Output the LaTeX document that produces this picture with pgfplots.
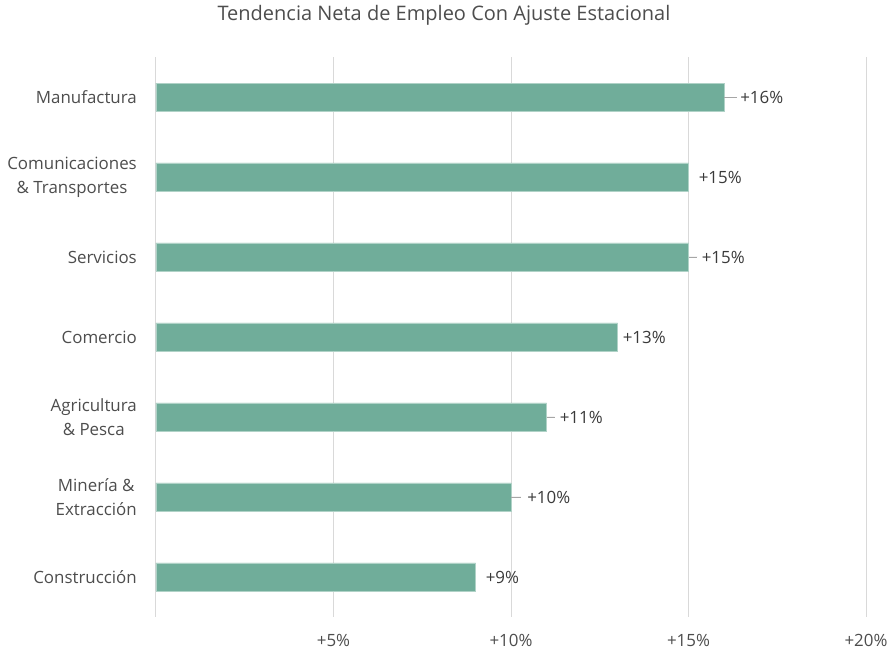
\documentclass[border=0pt]{standalone}
\usepackage{pgfplots}
\pgfplotsset{compat=1.18}
\usepackage{fontspec}
\setmainfont{Open Sans}
\definecolor{barc}{HTML}{70AD9A}
\definecolor{gridc}{HTML}{D9D9D9}
\definecolor{txt}{HTML}{4D4D4D}
\definecolor{lbl}{HTML}{3A3A3A}
\definecolor{lead}{HTML}{A6A6A6}

% y: 6 = top (Manufactura); off = gap bar end -> label (pt); len = leader line (data units)
\pgfplotstableread{
y x  off len
6 16 16  0.37
5 15 10  0
4 15 13  0.25
3 13 5   0
2 11 13  0.23
1 10 16  0.28
0 9  10  0
}\datatab

\begin{document}
\begin{tikzpicture}
\path[use as bounding box] (0,0) rectangle (889pt,653pt);
\begin{axis}[
    at={(156pt,36pt)}, anchor=south west,
    scale only axis, width=710pt, height=560pt,
    xmin=0, xmax=20, ymin=-0.5, ymax=6.5,
    axis line style={draw=none},
    major tick length=0pt,
    xtick={0,5,10,15,20},
    xticklabels={,+5\%,+10\%,+15\%,+20\%},
    xmajorgrids,
    grid style={gridc, line width=1pt},
    ytick={0,...,6},
    yticklabels={Construcción,{Minería \&\\Extracción},{Agricultura\\\& Pesca},Comercio,Servicios,{Comunicaciones\\\& Transportes},Manufactura},
    every tick label/.append style={font=\fontsize{16.9}{24}\selectfont, text=txt},
    xticklabel style={anchor=center, yshift=-23pt},
    yticklabel style={anchor=east, align=center, inner sep=0pt, xshift=-19pt},
    title={Tendencia Neta de Empleo Con Ajuste Estacional},
    title style={at={(0.4056,1.063)}, anchor=center, font=\fontsize{20}{24}\selectfont, text=txt},
  ]
  \addplot[xbar, bar width=28pt, fill=barc, draw=barc!55!white, line width=0.6pt,
    point meta=x,
    visualization depends on={\thisrow{off} \as \off},
    nodes near coords={+\pgfmathprintnumber[assume math mode=true]{\pgfplotspointmeta}\%},
    nodes near coords style={anchor=west, inner sep=0pt, xshift=\off pt,
      font=\fontsize{16.9}{20}\selectfont, text=lbl},
    error bars/.cd, x dir=plus, x explicit, error mark=none,
    error bar style={lead, line width=0.8pt},
  ] table[x=x, y=y, x error=len] {\datatab};
\end{axis}
\end{tikzpicture}
\end{document}
